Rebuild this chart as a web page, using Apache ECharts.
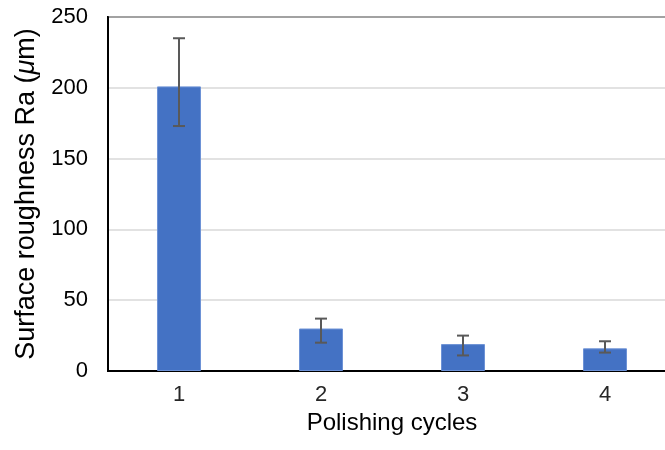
<!DOCTYPE html>
<html>
<head>
<meta charset="utf-8">
<script src="https://cdn.jsdelivr.net/npm/echarts@6/dist/echarts.min.js"></script>
<style>
  html, body { margin: 0; padding: 0; background: #fff; overflow: hidden; width: 665px; height: 450px; }
  #chart { width: 677px; height: 450px; }
</style>
</head>
<body>
<div id="chart"></div>
<script>
const categories = ['1', '2', '3', '4'];
const values = [201, 30, 19, 16];
const errLow = [173, 20, 11, 13];
const errHigh = [235, 37, 25, 21];
const yTicks = { min: 0, max: 250, interval: 50 };

const FONT = '"Liberation Sans", Arial, sans-serif';
const chart = echarts.init(document.getElementById('chart'), null, { renderer: 'canvas' });

const errData = categories.map((c, i) => [i, errLow[i], errHigh[i]]);

chart.setOption({
  animation: false,
  backgroundColor: '#ffffff',
  grid: {
    left: 108, top: 17, bottom: 79, right: 1,
    show: true, borderColor: '#000', borderWidth: 2, backgroundColor: 'transparent'
  },
  xAxis: {
    type: 'category',
    data: categories,
    axisTick: { show: false },
    axisLine: { show: true, lineStyle: { color: '#000', width: 2 } },
    axisLabel: { color: '#262626', fontSize: 22, fontFamily: FONT, margin: 13 },
    name: 'Polishing cycles',
    nameLocation: 'middle',
    nameGap: 36,
    nameTextStyle: { color: '#000', fontSize: 24, fontFamily: FONT }
  },
  yAxis: {
    type: 'value',
    min: yTicks.min, max: yTicks.max, interval: yTicks.interval,
    axisTick: { show: false },
    axisLine: { show: true, lineStyle: { color: '#000', width: 2 } },
    splitLine: { show: true, lineStyle: { color: '#d9d9d9', width: 1.5 } },
    axisLabel: { color: '#000', fontSize: 22, fontFamily: FONT, margin: 20 },
    name: '{n|Surface roughness Ra (}{i|μ}{n|m)}',
    nameLocation: 'middle',
    nameGap: 68,
    nameTextStyle: {
      color: '#000', fontSize: 27, fontFamily: FONT,
      rich: {
        n: { fontSize: 27, fontFamily: FONT, color: '#000' },
        i: { fontSize: 27, fontFamily: FONT, color: '#000', fontStyle: 'italic' }
      }
    }
  },
  series: [
    {
      type: 'bar',
      data: values,
      barWidth: 44,
      itemStyle: { color: '#4472C4', borderColor: '#6d92d6', borderWidth: 1 }
    },
    {
      type: 'custom',
      data: errData,
      z: 10,
      renderItem: function (params, api) {
        const x = api.value(0);
        const lo = api.coord([x, api.value(1)]);
        const hi = api.coord([x, api.value(2)]);
        const cap = 6;
        const style = { stroke: '#595959', lineWidth: 2 };
        return {
          type: 'group',
          children: [
            { type: 'line', shape: { x1: hi[0], y1: hi[1], x2: lo[0], y2: lo[1] }, style: style },
            { type: 'line', shape: { x1: hi[0] - cap, y1: hi[1], x2: hi[0] + cap, y2: hi[1] }, style: style },
            { type: 'line', shape: { x1: lo[0] - cap, y1: lo[1], x2: lo[0] + cap, y2: lo[1] }, style: style }
          ]
        };
      }
    }
  ]
});
</script>
</body>
</html>
